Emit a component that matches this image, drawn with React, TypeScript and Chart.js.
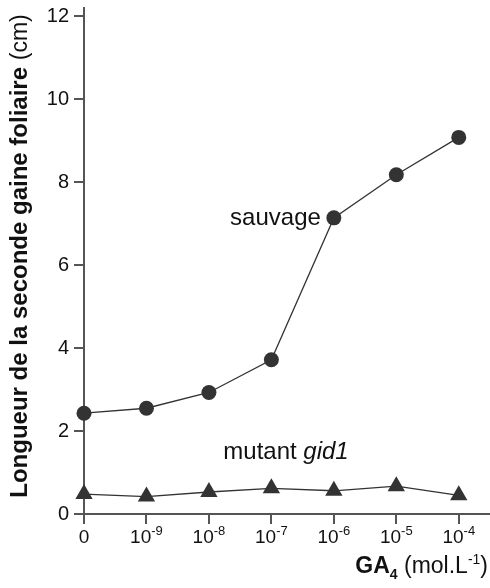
import React, { useEffect, useRef } from "react";
import { Chart, registerables } from "chart.js";

Chart.register(...registerables);

// GA4 concentrations (mol.L-1); "0" = no hormone, otherwise 10^exponent
const CATEGORIES = ["0", "10^-9", "10^-8", "10^-7", "10^-6", "10^-5", "10^-4"];
// Second leaf-sheath length (cm)
const SAUVAGE = [2.43, 2.55, 2.93, 3.72, 7.14, 8.18, 9.08];
const MUTANT_GID1 = [0.48, 0.42, 0.53, 0.62, 0.56, 0.67, 0.45];
const Y_TICKS = [0, 2, 4, 6, 8, 10, 12];

const FONT = "'Liberation Sans', Arial, Helvetica, sans-serif";
const AXIS_COLOR = "#555555";
const MARK_COLOR = "#333333";
const TEXT_COLOR = "#111111";

const labelsPlugin = {
  id: "sheathLabels",
  afterDraw(chart: any) {
    const { ctx } = chart;
    const xs = chart.scales.x;
    const ys = chart.scales.y;
    ctx.save();
    ctx.fillStyle = TEXT_COLOR;
    ctx.textBaseline = "alphabetic";

    // x tick labels with superscript exponents
    const tickBase = 543;
    CATEGORIES.forEach((lab, i) => {
      const cx = xs.getPixelForValue(i);
      const [base, exp] = lab.split("^");
      ctx.font = `19px ${FONT}`;
      const wb = ctx.measureText(base).width;
      let we = 0;
      if (exp) {
        ctx.font = `13px ${FONT}`;
        we = ctx.measureText(exp).width;
      }
      const x0 = cx - (wb + we) / 2;
      ctx.font = `19px ${FONT}`;
      ctx.textAlign = "left";
      ctx.fillText(base, x0, tickBase);
      if (exp) {
        ctx.font = `13px ${FONT}`;
        ctx.fillText(exp, x0 + wb, tickBase - 8);
      }
    });

    // series names
    ctx.font = `24px ${FONT}`;
    ctx.textAlign = "right";
    const px = xs.getPixelForValue(4);
    const py = ys.getPixelForValue(SAUVAGE[4]);
    ctx.fillText("sauvage", px - 13, py + 7);

    ctx.textAlign = "left";
    const mx = xs.getPixelForValue(2.23);
    const my = ys.getPixelForValue(1.33);
    ctx.font = `24px ${FONT}`;
    const wm = ctx.measureText("mutant ").width;
    ctx.fillText("mutant ", mx, my);
    ctx.font = `italic 24px ${FONT}`;
    ctx.fillText("gid1", mx + wm, my);

    // x axis title: GA4 (mol.L-1), right aligned
    const parts = [
      { t: "GA", f: `bold 23px ${FONT}`, dy: 0 },
      { t: "4", f: `bold 14px ${FONT}`, dy: 6 },
      { t: " (mol.L", f: `23px ${FONT}`, dy: 0 },
      { t: "-1", f: `14px ${FONT}`, dy: -9 },
      { t: ")", f: `23px ${FONT}`, dy: 0 },
    ];
    let total = 0;
    parts.forEach((p) => {
      ctx.font = p.f;
      total += ctx.measureText(p.t).width;
    });
    let tx = 488 - total;
    const tb = 573;
    parts.forEach((p) => {
      ctx.font = p.f;
      ctx.fillText(p.t, tx, tb + p.dy);
      tx += ctx.measureText(p.t).width;
    });

    // y axis title, rotated
    const bold = "Longueur de la seconde gaine foliaire ";
    const reg = "(cm)";
    ctx.font = `bold 24px ${FONT}`;
    const wBold = ctx.measureText(bold).width;
    ctx.font = `23px ${FONT}`;
    const wReg = ctx.measureText(reg).width;
    ctx.translate(27, 256);
    ctx.rotate(-Math.PI / 2);
    const sx = -(wBold + wReg) / 2;
    ctx.font = `bold 24px ${FONT}`;
    ctx.fillText(bold, sx, 0);
    ctx.font = `23px ${FONT}`;
    ctx.fillText(reg, sx + wBold, 0);

    ctx.restore();
  },
};

export default function App() {
  const canvasRef = useRef<HTMLCanvasElement | null>(null);

  useEffect(() => {
    const canvas = canvasRef.current;
    if (!canvas) return;
    const chart = new Chart(canvas, {
      type: "line",
      data: {
        datasets: [
          {
            label: "sauvage",
            data: SAUVAGE.map((v, i) => ({ x: i, y: v })),
            borderColor: MARK_COLOR,
            backgroundColor: MARK_COLOR,
            borderWidth: 1.3,
            pointStyle: "circle",
            pointRadius: 7.5,
            pointBorderWidth: 0,
            tension: 0,
            clip: false,
          },
          {
            label: "mutant gid1",
            data: MUTANT_GID1.map((v, i) => ({ x: i, y: v })),
            borderColor: MARK_COLOR,
            backgroundColor: MARK_COLOR,
            borderWidth: 1.3,
            pointStyle: "triangle",
            pointRadius: 10,
            pointBorderWidth: 0,
            tension: 0,
            clip: false,
          },
        ],
      },
      options: {
        responsive: false,
        animation: false,
        layout: { autoPadding: false, padding: { top: 8, right: 0, left: 0, bottom: 0 } },
        plugins: {
          legend: { display: false },
          tooltip: { enabled: false },
        },
        scales: {
          x: {
            type: "linear",
            min: 0,
            max: 6.5,
            afterBuildTicks: (scale: any) => {
              scale.ticks = CATEGORIES.map((_, i) => ({ value: i }));
            },
            afterFit: (scale: any) => {
              scale.height = 74;
              scale.paddingLeft = 0;
              scale.paddingRight = 0;
            },
            ticks: { display: false },
            grid: {
              drawOnChartArea: false,
              drawTicks: true,
              tickLength: 10,
              color: AXIS_COLOR,
              lineWidth: 2,
            },
            border: { color: AXIS_COLOR, width: 2 },
          },
          y: {
            type: "linear",
            min: 0,
            max: 12.2,
            afterBuildTicks: (scale: any) => {
              scale.ticks = Y_TICKS.map((v) => ({ value: v }));
            },
            afterFit: (scale: any) => {
              scale.width = 84;
              scale.paddingTop = 0;
              scale.paddingBottom = 0;
            },
            ticks: {
              padding: 5,
              color: TEXT_COLOR,
              font: { family: FONT, size: 20 },
            },
            grid: {
              drawOnChartArea: false,
              drawTicks: true,
              tickLength: 10,
              color: AXIS_COLOR,
              lineWidth: 2,
            },
            border: { color: AXIS_COLOR, width: 2 },
          },
        },
      },
      plugins: [labelsPlugin],
    });
    return () => chart.destroy();
  }, []);

  return (
    <div style={{ position: "absolute", left: 0, top: 0, width: 490, height: 588, background: "#fff" }}>
      <canvas ref={canvasRef} width={490} height={588} />
    </div>
  );
}
